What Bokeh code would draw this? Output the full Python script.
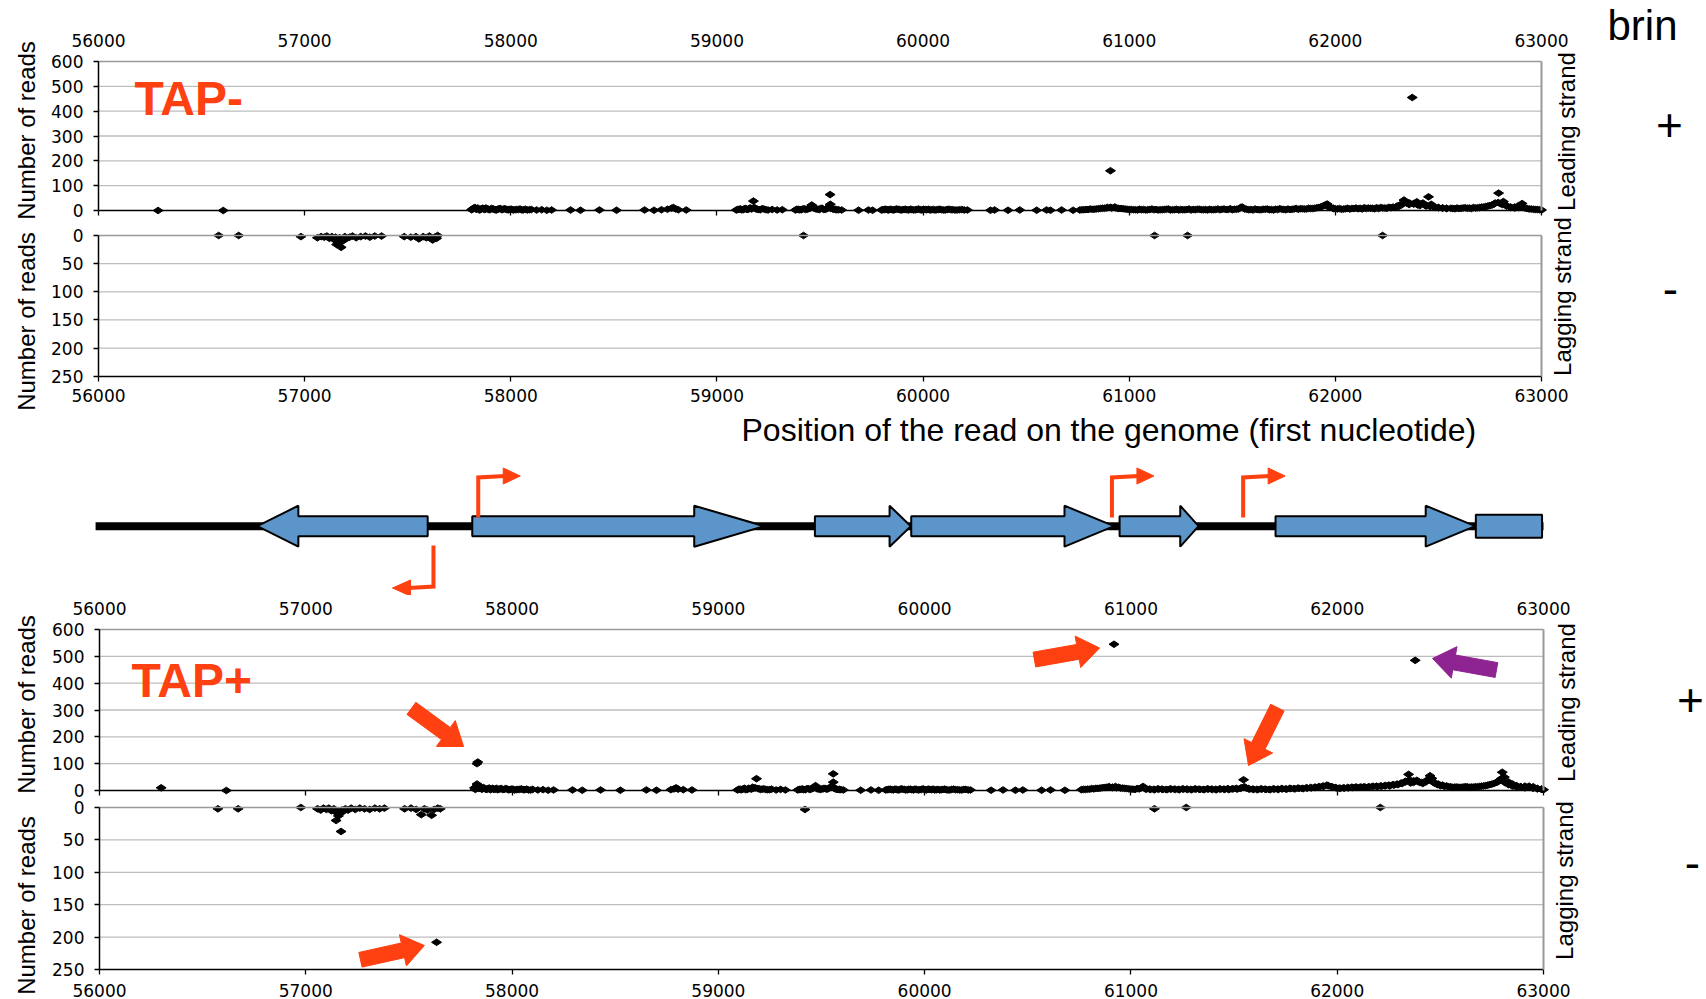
import math
from bokeh.plotting import figure
from bokeh.models import Range1d, LinearAxis, FixedTicker, Grid, Label
from bokeh.layouts import column
from bokeh.embed import file_html
from bokeh.resources import INLINE

# ---------------- data ----------------
x_ticks = [56000, 57000, 58000, 59000, 60000, 61000, 62000, 63000]
lead_ticks = [0, 100, 200, 300, 400, 500, 600]
lag_ticks = [0, 50, 100, 150, 200, 250]

# (position of first nucleotide, number of reads)
tap_minus_leading = [
    (56289, 0), (56605, 0),
    (57810, 3), (57814, 6), (57818, 8), (57822, 9), (57826, 12), (57832, 5), (57836, 7), (57840, 10),
    (57848, 2), (57852, 4), (57856, 6), (57861, 8), (57865, 9), (57870, 5), (57874, 4), (57879, 10),
    (57884, 7), (57890, 6), (57895, 3), (57900, 4), (57906, 8), (57912, 7), (57918, 5), (57924, 3),
    (57930, 2), (57936, 5), (57942, 6), (57948, 8), (57955, 4), (57961, 4), (57968, 7), (57975, 6),
    (57982, 3), (57989, 3), (57996, 5), (58004, 5), (58012, 2), (58020, 3), (58028, 4), (58037, 4),
    (58045, 6), (58054, 2), (58062, 3), (58071, 5), (58080, 2), (58090, 3), (58100, 4), (58125, 2),
    (58150, 3), (58175, 1), (58198, 2),
    (58290, 2), (58338, 1), (58430, 2), (58513, 1), (58649, 2), (58695, 1), (58731, 3), (58760, 5),
    (58780, 9), (58789, 12), (58800, 6), (58813, 3), (58851, 2),
    (59094, 2), (59101, 4), (59108, 5), (59114, 6), (59120, 3), (59127, 3), (59133, 7), (59140, 8),
    (59146, 4), (59152, 5), (59158, 9), (59163, 10), (59168, 6), (59177, 38), (59181, 12), (59186, 8),
    (59191, 6), (59197, 5), (59204, 4), (59210, 3), (59219, 7), (59228, 6), (59238, 3), (59248, 2),
    (59268, 4), (59292, 2), (59317, 3),
    (59381, 2), (59388, 5), (59395, 4), (59402, 3), (59409, 3), (59416, 6), (59423, 7), (59430, 4),
    (59438, 5), (59445, 8), (59452, 9), (59460, 22), (59470, 11), (59477, 7), (59484, 6), (59491, 5),
    (59498, 4), (59505, 9), (59512, 8), (59519, 4), (59526, 5), (59533, 7), (59540, 12), (59545, 15),
    (59549, 64), (59550, 25), (59553, 8), (59562, 6), (59568, 5), (59575, 4), (59582, 3), (59590, 3),
    (59605, 2),
    (59687, 1), (59735, 2), (59755, 1),
    (59798, 2), (59805, 3), (59812, 4), (59819, 5), (59826, 3), (59833, 2), (59840, 5), (59848, 4),
    (59855, 2), (59862, 3), (59870, 6), (59878, 5), (59885, 4), (59893, 2), (59900, 3), (59908, 4),
    (59915, 5), (59922, 3), (59930, 2), (59938, 5), (59945, 4), (59954, 2), (59962, 3), (59970, 4),
    (59978, 6), (59986, 3), (59994, 2), (60002, 5), (60010, 4), (60018, 3), (60026, 5), (60034, 2),
    (60042, 3), (60050, 4), (60058, 2), (60066, 3), (60074, 4), (60082, 5), (60090, 3), (60099, 2),
    (60108, 2), (60117, 4), (60126, 5), (60136, 3), (60145, 3), (60155, 2), (60165, 2), (60176, 3),
    (60188, 4), (60200, 2), (60215, 2),
    (60327, 1), (60347, 2), (60412, 1), (60469, 2), (60551, 1), (60599, 2), (60618, 1), (60672, 2),
    (60728, 1),
    (60760, 2), (60770, 3), (60780, 3), (60790, 4), (60800, 4), (60810, 6), (60820, 5), (60830, 5),
    (60840, 6), (60850, 7), (60860, 8), (60870, 9), (60880, 9), (60890, 11), (60895, 12), (60909, 160),
    (60910, 13), (60915, 10), (60930, 14), (60935, 10), (60945, 9), (60950, 8), (60960, 8), (60970, 7),
    (60980, 6), (60990, 5), (61000, 4), (61010, 4), (61020, 3), (61030, 3), (61040, 2), (61050, 5),
    (61060, 3), (61070, 4), (61080, 2), (61090, 3), (61100, 4), (61110, 6), (61120, 3), (61130, 4),
    (61140, 2), (61150, 3), (61160, 3), (61170, 4), (61180, 5), (61190, 6), (61200, 2), (61210, 3),
    (61220, 3), (61230, 5), (61240, 2), (61250, 4), (61260, 3), (61270, 3), (61280, 4), (61290, 6),
    (61300, 2), (61310, 4), (61320, 3), (61330, 5), (61340, 5), (61350, 3), (61360, 3), (61370, 4),
    (61380, 2), (61390, 5), (61400, 3), (61410, 3), (61420, 4), (61430, 6), (61440, 3), (61450, 5),
    (61460, 6), (61470, 4), (61480, 4), (61490, 7), (61500, 3), (61510, 5), (61520, 5), (61530, 6),
    (61540, 12), (61548, 14), (61560, 6), (61570, 5), (61580, 3), (61590, 4), (61600, 2), (61610, 6),
    (61620, 4), (61630, 3), (61640, 3), (61650, 5), (61660, 5), (61670, 6), (61680, 3), (61690, 4),
    (61700, 2), (61710, 5), (61720, 4), (61730, 7), (61740, 5), (61750, 4), (61760, 3), (61770, 6),
    (61780, 4), (61790, 5), (61800, 6), (61810, 8), (61820, 5), (61830, 7), (61840, 7), (61850, 6),
    (61860, 6), (61870, 9), (61880, 8), (61890, 8), (61900, 9), (61910, 11), (61920, 12), (61930, 15),
    (61940, 18), (61950, 22), (61960, 26), (61970, 12), (61975, 14), (61990, 8), (61990, 9), (62000, 7),
    (62010, 6), (62020, 8), (62030, 5), (62040, 6), (62050, 7), (62060, 9), (62070, 6), (62080, 8),
    (62090, 8), (62100, 10), (62110, 7), (62120, 9), (62130, 6), (62140, 11), (62150, 8), (62160, 10),
    (62170, 9), (62180, 9), (62190, 7), (62200, 11), (62210, 8), (62220, 12), (62230, 10), (62240, 10),
    (62250, 9), (62260, 13), (62270, 11), (62280, 14), (62290, 12), (62300, 18), (62305, 15),
    (62320, 22), (62320, 26), (62333, 42), (62340, 34), (62345, 30), (62358, 24), (62360, 30),
    (62373, 455), (62380, 28), (62380, 26), (62395, 35), (62400, 22), (62410, 20), (62420, 28),
    (62425, 30), (62440, 18), (62440, 20), (62452, 55), (62460, 16), (62465, 25), (62480, 15),
    (62480, 13), (62500, 12), (62500, 11), (62520, 10), (62520, 10), (62540, 8), (62540, 9),
    (62560, 9), (62570, 8), (62580, 7), (62590, 10), (62600, 8), (62610, 9), (62620, 10), (62630, 11),
    (62640, 9), (62650, 10), (62660, 8), (62670, 12), (62680, 10), (62690, 11), (62700, 12),
    (62710, 14), (62720, 14), (62730, 16), (62740, 18), (62750, 20), (62760, 22), (62770, 26),
    (62775, 30), (62790, 32), (62792, 70), (62800, 28), (62810, 24), (62815, 36), (62830, 20),
    (62830, 18), (62850, 14), (62850, 12), (62870, 10), (62870, 14), (62890, 12), (62890, 20),
    (62906, 28), (62910, 12), (62920, 10), (62930, 8), (62940, 6), (62950, 6), (62960, 5), (62970, 4),
    (62980, 4), (62990, 3), (63000, 2),
]

tap_minus_lagging = [
    (56583, 0), (56680, 0), (56982, 2),
    (57062, 4), (57080, 2), (57095, 3), (57108, 1), (57120, 5), (57132, 2), (57142, 7), (57150, 3),
    (57155, 16), (57162, 9), (57170, 4), (57177, 21), (57180, 11), (57186, 6), (57195, 2), (57205, 5),
    (57218, 3), (57232, 1), (57250, 4), (57272, 2), (57295, 1), (57316, 3), (57340, 1), (57373, 1),
    (57483, 2), (57515, 3), (57540, 2), (57554, 6), (57575, 2), (57590, 4), (57605, 1), (57621, 8),
    (57632, 3), (57640, 5), (57645, 0),
    (59420, 0), (61123, 0), (61283, 0), (62229, 0),
]

tap_plus_leading = [
    (56299, 10), (56615, 0),
    (57818, 10), (57822, 4), (57826, 14), (57830, 100), (57834, 106), (57830, 24), (57838, 8),
    (57842, 9), (57846, 12), (57851, 6), (57855, 5), (57860, 11), (57864, 9), (57869, 7), (57874, 4),
    (57879, 5), (57884, 7), (57889, 9), (57895, 3), (57900, 6), (57906, 8), (57912, 4), (57918, 5),
    (57924, 8), (57930, 3), (57936, 5), (57942, 6), (57948, 7), (57955, 4), (57961, 4), (57968, 7),
    (57975, 6), (57982, 3), (57989, 3), (57996, 5), (58004, 5), (58012, 2), (58020, 3), (58028, 4),
    (58037, 4), (58045, 6), (58054, 3), (58062, 3), (58071, 5), (58080, 2), (58090, 2), (58100, 4),
    (58125, 2), (58150, 3), (58175, 1), (58201, 2),
    (58293, 2), (58340, 1), (58429, 2), (58525, 1), (58651, 2), (58700, 1), (58770, 3), (58785, 6),
    (58795, 10), (58805, 5), (58830, 3), (58872, 2),
    (59093, 2), (59100, 5), (59107, 4), (59113, 3), (59120, 6), (59127, 8), (59133, 3), (59140, 4),
    (59146, 8), (59153, 7), (59160, 5), (59166, 12), (59172, 9), (59179, 10), (59185, 44), (59192, 7),
    (59198, 6), (59205, 4), (59212, 5), (59220, 6), (59229, 4), (59238, 3), (59248, 3), (59258, 5),
    (59280, 2), (59302, 4), (59325, 2),
    (59385, 2), (59392, 4), (59400, 4), (59407, 6), (59414, 3), (59421, 3), (59428, 6), (59435, 7),
    (59442, 4), (59449, 5), (59456, 8), (59463, 10), (59471, 18), (59476, 8), (59482, 6), (59489, 5),
    (59496, 4), (59503, 6), (59510, 7), (59517, 8), (59524, 5), (59531, 6), (59538, 10), (59545, 12),
    (59548, 14), (59557, 62), (59557, 31), (59557, 12), (59563, 8), (59568, 6), (59574, 5),
    (59580, 4), (59587, 4), (59594, 3), (59606, 2),
    (59690, 1), (59740, 2), (59777, 1),
    (59811, 2), (59818, 3), (59826, 4), (59833, 5), (59841, 3), (59848, 2), (59856, 5), (59863, 4),
    (59871, 2), (59878, 3), (59886, 6), (59893, 5), (59901, 4), (59908, 2), (59916, 3), (59923, 4),
    (59931, 5), (59938, 3), (59946, 2), (59953, 5), (59961, 4), (59969, 2), (59977, 3), (59985, 4),
    (59993, 6), (60001, 3), (60009, 2), (60017, 5), (60025, 4), (60033, 3), (60041, 5), (60049, 2),
    (60057, 3), (60065, 4), (60073, 2), (60081, 3), (60089, 4), (60097, 5), (60105, 3), (60113, 2),
    (60122, 2), (60131, 4), (60140, 5), (60150, 3), (60160, 3), (60170, 2), (60180, 2), (60190, 4),
    (60200, 4), (60211, 2), (60222, 2),
    (60322, 1), (60380, 2), (60440, 1), (60476, 2), (60567, 1), (60610, 2), (60680, 1),
    (60760, 3), (60770, 4), (60780, 4), (60790, 5), (60800, 5), (60810, 7), (60820, 6), (60830, 8),
    (60840, 8), (60850, 9), (60860, 10), (60870, 11), (60880, 12), (60890, 13), (60895, 14),
    (60918, 545), (60910, 11), (60910, 12), (60925, 15), (60930, 10), (60940, 12), (60950, 9),
    (60960, 9), (60970, 8), (60980, 7), (60990, 6), (61000, 5), (61010, 5), (61020, 4), (61030, 7),
    (61040, 6), (61050, 10), (61059, 15), (61070, 6), (61075, 5), (61090, 5), (61095, 4), (61110, 4),
    (61115, 3), (61130, 6), (61135, 5), (61150, 5), (61155, 4), (61170, 4), (61175, 3), (61190, 6),
    (61195, 5), (61210, 5), (61215, 4), (61230, 4), (61235, 3), (61250, 6), (61255, 5), (61270, 5),
    (61275, 4), (61290, 4), (61295, 3), (61310, 6), (61315, 5), (61330, 5), (61335, 4), (61350, 4),
    (61355, 3), (61370, 6), (61375, 5), (61390, 5), (61395, 4), (61410, 4), (61415, 3), (61430, 6),
    (61435, 5), (61450, 5), (61455, 4), (61470, 7), (61475, 3), (61490, 6), (61495, 6), (61510, 8),
    (61515, 5), (61530, 8), (61535, 10), (61546, 40), (61550, 14), (61560, 9), (61570, 7),
    (61575, 5), (61590, 5), (61595, 4), (61610, 4), (61615, 3), (61630, 6), (61635, 5), (61650, 5),
    (61655, 4), (61670, 4), (61675, 3), (61690, 6), (61695, 5), (61710, 5), (61715, 4), (61730, 7),
    (61735, 6), (61750, 6), (61755, 5), (61770, 8), (61775, 7), (61790, 7), (61795, 6), (61810, 9),
    (61815, 8), (61830, 8), (61835, 7), (61850, 10), (61855, 9), (61870, 11), (61875, 10),
    (61890, 12), (61895, 12), (61910, 14), (61915, 14), (61930, 16), (61935, 16), (61950, 20),
    (61957, 18), (61970, 15), (61975, 14), (61990, 11), (61995, 10), (62010, 9), (62015, 8),
    (62030, 10), (62035, 9), (62050, 11), (62055, 10), (62070, 12), (62075, 11), (62090, 13),
    (62095, 12), (62110, 12), (62115, 13), (62130, 14), (62135, 12), (62150, 13), (62155, 14),
    (62170, 15), (62175, 15), (62190, 16), (62195, 14), (62210, 17), (62215, 16), (62230, 18),
    (62235, 18), (62250, 20), (62255, 17), (62270, 22), (62275, 20), (62290, 24), (62295, 22),
    (62310, 28), (62315, 26), (62330, 34), (62330, 32), (62346, 60), (62350, 40), (62356, 28),
    (62370, 30), (62370, 36), (62378, 485), (62386, 38), (62390, 34), (62400, 30), (62410, 30),
    (62415, 26), (62430, 36), (62430, 32), (62443, 40), (62450, 42), (62450, 55), (62459, 45),
    (62470, 28), (62470, 30), (62485, 22), (62490, 24), (62500, 18), (62510, 20), (62520, 15),
    (62530, 17), (62540, 14), (62550, 14), (62560, 12), (62570, 13), (62580, 13), (62590, 12),
    (62600, 12), (62610, 13), (62620, 14), (62630, 14), (62640, 12), (62650, 13), (62660, 13),
    (62670, 14), (62680, 14), (62690, 15), (62700, 16), (62710, 17), (62720, 18), (62730, 20),
    (62740, 22), (62750, 24), (62760, 26), (62770, 30), (62778, 32), (62790, 40), (62795, 44),
    (62800, 68), (62810, 50), (62812, 30), (62830, 32), (62830, 22), (62850, 24), (62850, 16),
    (62870, 18), (62870, 12), (62890, 14), (62890, 14), (62910, 16), (62910, 10), (62930, 12),
    (62930, 16), (62950, 14), (62950, 8), (62970, 8), (62970, 6), (62990, 5), (62990, 5), (63000, 3),
]

tap_plus_lagging = [
    (56574, 2), (56672, 2), (56976, 0),
    (57057, 2), (57072, 4), (57086, 1), (57100, 3), (57112, 1), (57124, 5), (57136, 2), (57147, 20),
    (57150, 8), (57158, 13), (57164, 9), (57171, 37), (57175, 4), (57182, 6), (57192, 2), (57205, 4),
    (57220, 1), (57240, 3), (57262, 1), (57285, 2), (57310, 3), (57335, 1), (57358, 2), (57381, 1),
    (57479, 2), (57510, 1), (57535, 3), (57560, 11), (57575, 2), (57590, 4), (57610, 12), (57622, 3),
    (57634, 208), (57640, 1), (57652, 2),
    (59420, 3), (61114, 2), (61268, 0), (62209, 0),
]

# genes of the map (genome positions): body start, head base, tip
gene_body_start = [57591, 57807, 59468, 59935, 60945, 61701]
gene_head_base = [56964, 58883, 59830, 60678, 61239, 62429]
gene_tip = [56765, 59222, 59933, 60918, 61328, 62669]
gene_box_start = [62672]
gene_box_end = [62993]
backbone_start, backbone_end = 55981, 63000
promoter_pos = [57836, 57619, 60908, 61544]
promoter_dir = [1, -1, 1, 1]

# annotation arrows: (tail x, tail y) -> (tip x, tip y) in data units, colour
tap_plus_lead_arrows = [
    ((57512, 306), (57765, 164), "red"),
    ((60532, 488), (60848, 531), "red"),
    ((62772, 449), (62462, 492), "purple"),
    ((61710, 309), (61570, 93), "red"),
]
tap_plus_lag_arrows = [
    ((57265, 235), (57575, 213), "red"),
]

# ---------------- style ----------------
RED = "#FF4010"
PURPLE = "#8E2392"
BLUE = "#5C95CA"
GRID = "#BDBDBD"
BORDER = "#999999"
TICKFONT = "DejaVu Sans"
TXTFONT = "Liberation Sans"
COLORS = {"red": RED, "purple": PURPLE}
W, H = 1706, 999
BASE_SHIFT = 0.41  # alphabetic anchor -> baseline offset (in em) of the renderer


def geom(left, right, top, bottom, ytop, ybot, x0=56000.0, x1=63000.0):
    return dict(left=left, right=right, top=top, bottom=bottom, ytop=ytop, ybot=ybot, x0=x0, x1=x1)


def to_px(g, x, y):
    px = g["left"] + (x - g["x0"]) * (g["right"] - g["left"]) / (g["x1"] - g["x0"])
    py = g["top"] + (y - g["ytop"]) * (g["bottom"] - g["top"]) / (g["ybot"] - g["ytop"])
    return px, py


def to_data(g, px, py):
    x = g["x0"] + (px - g["left"]) * (g["x1"] - g["x0"]) / (g["right"] - g["left"])
    y = g["ytop"] + (py - g["top"]) * (g["ybot"] - g["ytop"]) / (g["bottom"] - g["top"])
    return x, y


def band_figure(g, band_top, band_bottom):
    x_lo, y_lo = to_data(g, 0, band_bottom)
    x_hi, y_hi = to_data(g, W, band_top)
    p = figure(width=W, height=band_bottom - band_top,
               x_range=Range1d(x_lo, x_hi), y_range=Range1d(y_lo, y_hi),
               min_border_left=0, min_border_right=0, min_border_top=0, min_border_bottom=0,
               x_axis_location=None, y_axis_location=None, title_location=None,
               output_backend="svg", toolbar_location=None, tools="",
               background_fill_color="white", border_fill_color="white",
               outline_line_color=None)
    for r in list(p.center):
        if isinstance(r, Grid):
            r.visible = False
    return p


def add_label(p, g, px, py, text, size, color="black", align="center", angle=0.0, bold=False):
    x, y = to_data(g, px, py)
    p.add_layout(Label(x=x, y=y, x_units="data", y_units="data", text=text, angle=angle,
                       text_font=TXTFONT, text_font_size=size, text_color=color,
                       text_align=align, text_baseline="alphabetic",
                       text_font_style="bold" if bold else "normal"))


def add_text_baseline(p, g, px, baseline_py, text, size_px, **kw):
    # place text so that its baseline lands on baseline_py
    add_label(p, g, px, baseline_py - BASE_SHIFT * size_px, text, "%dpx" % size_px, **kw)


def add_vertical_text(p, g, center_px, center_py, text, size_px):
    # rotated text reading bottom-to-top, visually centred on (center_px, center_py)
    add_label(p, g, center_px - 0.08 * size_px, center_py, text, "%dpx" % size_px, angle=math.pi / 2)


def block_arrow(g, tail, tip, w=15.0, hw=32.0, hl=22.0):
    tx, ty = to_px(g, *tail)
    hx, hy = to_px(g, *tip)
    dx, dy = hx - tx, hy - ty
    L = math.hypot(dx, dy)
    ux, uy = dx / L, dy / L
    nx, ny = -uy, ux
    bx, by = hx - ux * hl, hy - uy * hl
    pts = [(tx + nx * w / 2, ty + ny * w / 2), (bx + nx * w / 2, by + ny * w / 2),
           (bx + nx * hw / 2, by + ny * hw / 2), (hx, hy),
           (bx - nx * hw / 2, by - ny * hw / 2), (bx - nx * w / 2, by - ny * w / 2),
           (tx - nx * w / 2, ty - ny * w / 2)]
    d = [to_data(g, a, b) for a, b in pts]
    return [a for a, _ in d], [b for _, b in d]


def fixed_axis(p, side, loc, ticks, bounds, rname, line_color="black", line_width=1.5,
               tick_out=0, standoff=0, labels=True):
    ax = LinearAxis(fixed_location=loc, bounds=bounds, y_range_name=rname)
    ax.ticker = FixedTicker(ticks=ticks, minor_ticks=[])
    ax.axis_line_color = line_color
    ax.axis_line_width = line_width
    ax.major_tick_in = 0
    ax.major_tick_out = tick_out
    ax.major_tick_line_color = "black" if tick_out else None
    ax.major_tick_line_width = 1.3
    ax.minor_tick_line_color = None
    ax.major_label_standoff = standoff
    ax.major_label_text_font = TICKFONT
    ax.major_label_text_color = "black"
    if labels:
        ax.major_label_text_font_size = "17px"
    else:
        ax.major_label_text_font_size = "0px"
        ax.major_label_overrides = {t: "" for t in ticks}
    p.add_layout(ax, side)
    return ax


def build_panel(p, kind, points, rname="default", bottom_standoff=8):
    yt = lead_ticks if kind == "lead" else lag_ticks
    ymax = yt[-1]
    inner = yt[1:-1]
    p.segment(x0=[56000] * len(inner), y0=inner, x1=[63000] * len(inner), y1=inner,
              line_color=GRID, line_width=1.3, y_range_name=rname)
    fixed_axis(p, "left", 56000, yt, (0, ymax), rname, "black", 1.5, tick_out=5, standoff=10)
    fixed_axis(p, "right", 63000, [], (0, ymax), rname, BORDER, 2.0, labels=False)
    if kind == "lead":
        fixed_axis(p, "above", ymax, x_ticks, (56000, 63000), rname, BORDER, 1.6, tick_out=0, standoff=15)
        fixed_axis(p, "below", 0, x_ticks, (56000, 63000), rname, "black", 1.5, tick_out=5, labels=False)
    else:
        fixed_axis(p, "above", 0, [], (56000, 63000), rname, BORDER, 1.6, labels=False)
        fixed_axis(p, "below", ymax, x_ticks, (56000, 63000), rname, "black", 1.5, tick_out=5,
                   standoff=bottom_standoff)
    p.scatter([a for a, _ in points], [b for _, b in points], marker="diamond", size=10,
              angle=math.pi / 2, fill_color="black", line_color="black", y_range_name=rname)


def lag_range(g, band_top, band_bottom):
    _, lo = to_data(g, 0, band_bottom)
    _, hi = to_data(g, 0, band_top)
    return Range1d(lo, hi)


# geometry of each panel (reference pixel positions of the value box)
GA = geom(98, 1541, 61, 210, 600, 0)
GB = geom(98, 1541, 235, 375.7, 0, 250)
GC = geom(99, 1543, 629, 790, 600, 0)
GD = geom(99, 1543, 807, 969, 0, 250)
GM = geom(99, 1543, 412, 595, 412, 595)

# ---- TAP- : leading (default range) and lagging (extra range) ----
pAB = band_figure(GA, 0, 412)
pAB.extra_y_ranges = {"lag": lag_range(GB, 0, 412)}
build_panel(pAB, "lead", tap_minus_leading)
build_panel(pAB, "lag", tap_minus_lagging, rname="lag", bottom_standoff=8)
add_text_baseline(pAB, GA, 134, 118, "TAP-", 48, color=RED, align="left", bold=True)
add_vertical_text(pAB, GA, 28, 130, "Number of reads", 24)
add_vertical_text(pAB, GA, 1568, 131, "Leading strand", 24)
add_text_baseline(pAB, GA, 1607, 42, "brin", 42, align="left")
add_text_baseline(pAB, GA, 1669, 143, "+", 46)
add_vertical_text(pAB, GA, 28, 321, "Number of reads", 24)
add_vertical_text(pAB, GA, 1564, 296, "Lagging strand", 24)
add_text_baseline(pAB, GA, 1670, 307, "-", 46)

# ---- gene map ----
pM = band_figure(GM, 412, 595)
UPX = (GM["x1"] - GM["x0"]) / (GM["right"] - GM["left"])  # genome units per pixel
YC, BODY, HEAD = 525.7, 10.0, 20.5
pM.segment(x0=[backbone_start], y0=[YC], x1=[backbone_end], y1=[YC], line_width=8, line_color="black")
xs, ys = [], []
for s, b, t in zip(gene_body_start, gene_head_base, gene_tip):
    xs.append([s, b, b, t, b, b, s])
    ys.append([YC - BODY, YC - BODY, YC - HEAD, YC, YC + HEAD, YC + BODY, YC + BODY])
for s, e in zip(gene_box_start, gene_box_end):
    xs.append([s, e, e, s])
    ys.append([YC - 11.5, YC - 11.5, YC + 11.5, YC + 11.5])
pM.patches(xs, ys, fill_color=BLUE, line_color="black", line_width=2)
# transcription start sites (bent arrows)
lxs, lys, hxs, hys = [], [], [], []
for pos, d in zip(promoter_pos, promoter_dir):
    if d > 0:
        y_start, y_turn = 517.0, 477.0
        arm, tip = pos + 27 * UPX, pos + 42 * UPX
    else:
        y_start, y_turn = 545.0, 586.0
        arm, tip = pos - 25 * UPX, pos - 41 * UPX
    lxs.append([pos, pos, arm])
    lys.append([y_start, y_turn, y_turn - d * 1.5])
    base = arm - d * 2 * UPX
    hxs.append([base, tip, base])
    hys.append([y_turn - d * 1.5 - 8, y_turn - d * 1.5, y_turn - d * 1.5 + 8])
pM.multi_line(lxs, lys, line_color=RED, line_width=4, line_join="miter")
pM.patches(hxs, hys, fill_color=RED, line_color=RED, line_width=1)
add_text_baseline(pM, GM, 741, 443, "Position of the read  on the genome (first nucleotide)", 32,
                  align="left")

# ---- TAP+ : leading (default range) and lagging (extra range) ----
pCD = band_figure(GC, 595, 999)
pCD.extra_y_ranges = {"lag": lag_range(GD, 595, 999)}
build_panel(pCD, "lead", tap_plus_leading)
build_panel(pCD, "lag", tap_plus_lagging, rname="lag", bottom_standoff=9)
for tail, tip, c in tap_plus_lead_arrows:
    ax_, ay_ = block_arrow(GC, tail, tip)
    pCD.patch(ax_, ay_, fill_color=COLORS[c], line_color=COLORS[c], line_width=1)
for tail, tip, c in tap_plus_lag_arrows:
    ax_, ay_ = block_arrow(GD, tail, tip)
    pCD.patch(ax_, ay_, fill_color=COLORS[c], line_color=COLORS[c], line_width=1, y_range_name="lag")
add_text_baseline(pCD, GC, 131, 700, "TAP+", 48, color=RED, align="left", bold=True)
add_vertical_text(pCD, GC, 28, 704, "Number of reads", 24)
add_vertical_text(pCD, GC, 1568, 702, "Leading strand", 24)
add_text_baseline(pCD, GC, 1690, 718, "+", 46)
add_vertical_text(pCD, GC, 28, 905, "Number of reads", 24)
add_vertical_text(pCD, GC, 1566, 880, "Lagging strand", 24)
add_text_baseline(pCD, GC, 1692, 881, "-", 46)

layout = column(pAB, pM, pCD, spacing=0)
open("out.html", "w").write(file_html(layout, INLINE))
